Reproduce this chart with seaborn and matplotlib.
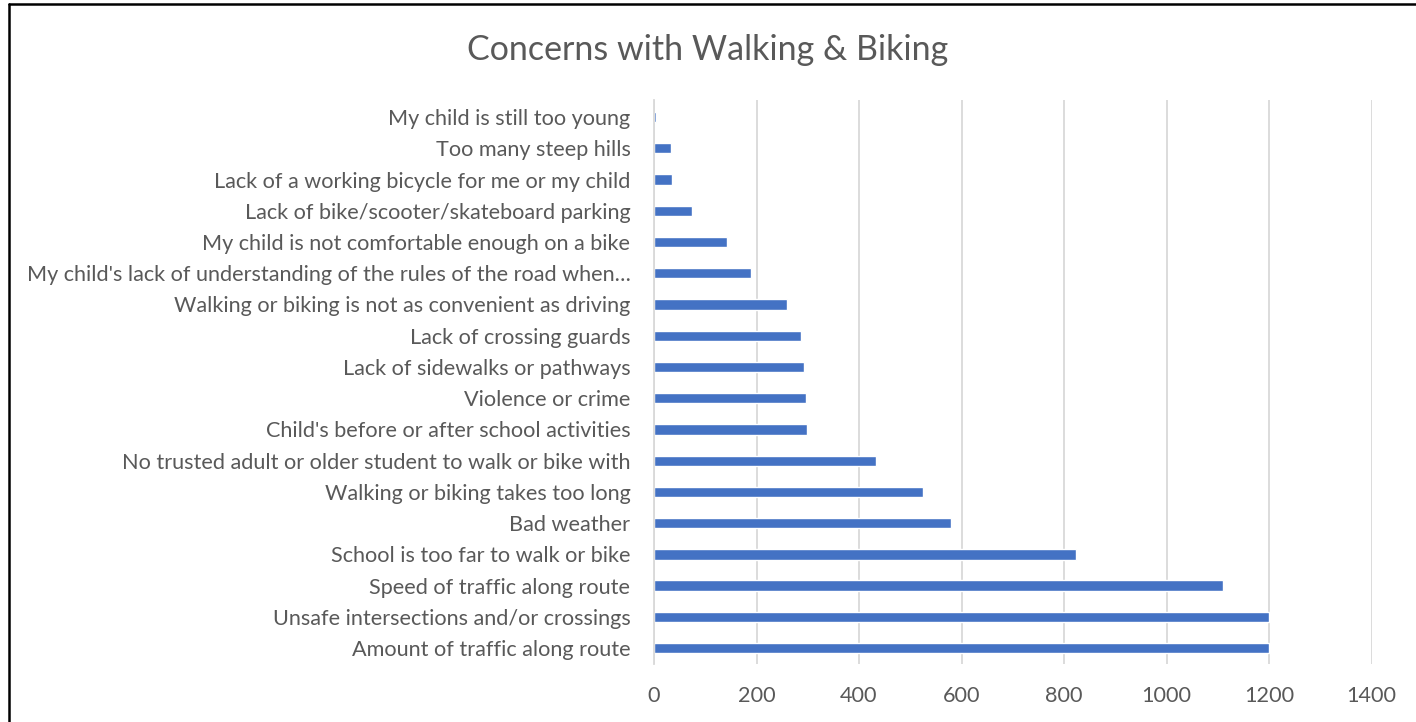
import pandas as pd
import matplotlib.pyplot as plt
from matplotlib.lines import Line2D
import seaborn as sns

# 데이터 (위에서 아래 순서)
concerns = [
    "My child is still too young",
    "Too many steep hills",
    "Lack of a working bicycle for me or my child",
    "Lack of bike/scooter/skateboard parking",
    "My child is not comfortable enough on a bike",
    "My child's lack of understanding of the rules of the road when\u2026",
    "Walking or biking is not as convenient as driving",
    "Lack of crossing guards",
    "Lack of sidewalks or pathways",
    "Violence or crime",
    "Child's before or after school activities",
    "No trusted adult or older student to walk or bike with",
    "Walking or biking takes too long",
    "Bad weather",
    "School is too far to walk or bike",
    "Speed of traffic along route",
    "Unsafe intersections and/or crossings",
    "Amount of traffic along route",
]
counts = [3, 33, 35, 75, 143, 190, 259, 286, 292, 296, 299, 434, 525, 579, 823, 1110, 1200, 1200]
x_ticks = [0, 200, 400, 600, 800, 1000, 1200, 1400]

df = pd.DataFrame({'concern': concerns, 'count': counts})

sns.set_style('white')
plt.rcParams['font.family'] = ['Lato', 'DejaVu Sans']

text_color = '#595959'
bar_color = '#4472C4'

fig = plt.figure(figsize=(14.16, 7.22), dpi=100)
ax = fig.add_axes([0.4619, 0.0803, 0.5067, 0.7812])

sns.barplot(data=df, x='count', y='concern', orient='h', color=bar_color,
            width=0.33, saturation=1, ax=ax)

ax.set_xlim(0, 1400)
ax.set_ylim(len(concerns) - 0.49, -0.545)
ax.set_xticks(x_ticks)
ax.grid(axis='x', color='#d9d9d9', linewidth=1.3)
ax.set_axisbelow(True)
for s in ['top', 'right', 'bottom']:
    ax.spines[s].set_visible(False)
ax.spines['left'].set_color('#d9d9d9')
ax.spines['left'].set_linewidth(1.3)
ax.tick_params(axis='both', length=0, labelsize=15.6, colors=text_color)
ax.tick_params(axis='y', pad=17)
ax.tick_params(axis='x', pad=16)
ax.set_xlabel('')
ax.set_ylabel('')

fig.text(0.5, 0.931, 'Concerns with Walking & Biking', ha='center', va='center',
         fontsize=24.5, color=text_color)

# 테두리 (위쪽, 왼쪽)
fig.add_artist(Line2D([9 / 1416, 9 / 1416], [0, 1 - 4 / 722], color='black',
                      linewidth=1.8, transform=fig.transFigure))
fig.add_artist(Line2D([9 / 1416, 1], [1 - 4 / 722, 1 - 4 / 722], color='black',
                      linewidth=1.8, transform=fig.transFigure))

fig.savefig('out.png', dpi=100)
